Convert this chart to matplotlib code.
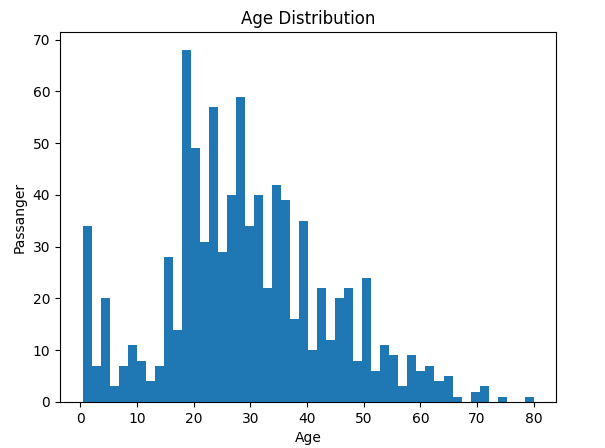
import matplotlib
matplotlib.use("Agg")
import matplotlib.pyplot as plt
import numpy as np

# Histogram data (50 equal bins from 0.42 to 80)
age_min = 0.42
age_max = 80.0
n_bins = 50
counts = [34, 7, 20, 3, 7, 11, 8, 4, 7, 28,
          14, 68, 49, 31, 57, 29, 40, 59, 34, 40,
          22, 42, 39, 16, 35, 10, 22, 12, 20, 22,
          8, 24, 6, 11, 9, 3, 9, 6, 7, 4,
          5, 1, 0, 2, 3, 0, 1, 0, 0, 1]

edges = np.linspace(age_min, age_max, n_bins + 1)
centers = (edges[:-1] + edges[1:]) / 2

fig = plt.figure(figsize=(6.05, 4.48), dpi=100)
ax = fig.add_axes([0.0992, 0.1027, 0.9195 - 0.0992, 0.9275 - 0.1027])
ax.hist(centers, bins=edges, weights=counts, color="#1f77b4")
ax.set_title("Age Distribution")
ax.set_xlabel("Age")
ax.set_ylabel("Passanger")
fig.savefig("out.png", dpi=100)
